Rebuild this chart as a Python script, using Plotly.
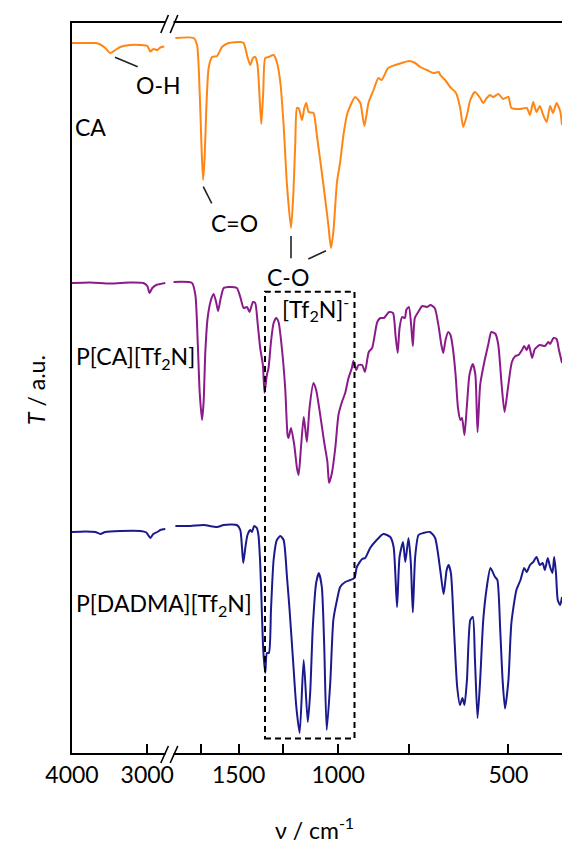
import math
import plotly.graph_objects as go

# ---------------- data (wavenumber in cm^-1, transmittance in a.u., offset) -------------
ca_left_wn = [4000, 3890, 3757, 3690, 3624, 3558, 3491, 3425, 3359, 3226, 3093, 3000, 2960, 2920, 2867, 2827, 2775]
ca_left_T = [71.0, 71.0, 71.0, 71.0, 70.85, 70.5, 70.0, 70.3, 70.6, 70.8, 70.8, 70.7, 70.15, 70.4, 70.3, 70.55, 70.65]

ca_right_wn = [1941, 1802, 1777, 1758, 1746, 1734, 1723, 1711, 1695, 1672,
               1638, 1605, 1562, 1490, 1470, 1447, 1431, 1415, 1402, 1389,
               1379, 1368, 1357, 1346, 1328, 1301, 1284, 1266, 1249, 1232,
               1212, 1200, 1191, 1183, 1175, 1159, 1148, 1139, 1128, 1106,
               1091, 1062, 1041, 1030, 1020, 1005, 992, 979, 963, 933,
               914, 899, 884, 866, 849, 838, 816, 793, 772, 749,
               731, 716, 697, 678, 664, 660, 647, 634, 619, 609,
               601, 592, 584, 573, 561, 554, 546, 539, 532, 521,
               511, 500, 494, 477, 464, 458, 452, 446, 440, 434,
               428, 422, 417, 411, 405, 402]
ca_right_T = [71.5, 71.5, 70.8, 66.1, 61.1, 57.3, 59.5, 64.5, 68.5, 69.6,
              69.7, 70.6, 71.0, 71.1, 71.0, 69.6, 68.8, 69.5, 69.6, 68.8,
              66.1, 62.9, 66.1, 69.5, 69.6, 69.8, 69.1, 67.1, 62.8, 56.8,
              52.5, 56.1, 61.1, 64.5, 64.5, 63.3, 64.5, 65.0, 64.1, 64.0,
              61.8, 56.8, 52.8, 50.5, 52.1, 57.1, 59.1, 61.8, 64.0, 65.6,
              65.0, 62.7, 65.0, 66.3, 67.5, 67.3, 68.5, 68.8, 69.0, 69.2,
              69.0, 68.6, 68.3, 68.0, 68.1, 67.8, 67.3, 66.6, 66.0, 64.6,
              62.6, 63.8, 65.3, 66.1, 65.5, 65.0, 65.5, 65.8, 65.6, 65.9,
              65.4, 65.6, 64.5, 64.4, 64.5, 63.8, 65.1, 64.1, 64.7, 63.8,
              63.1, 64.7, 64.0, 65.0, 64.2, 62.8]

pca_left_wn = [4000, 3757, 3491, 3226, 3053, 3000, 2970, 2934, 2881, 2761]
pca_left_T = [47.0, 47.05, 46.95, 47.05, 47.0, 46.7, 46.0, 46.5, 46.8, 47.0]

pca_right_wn = [1955, 1814, 1789, 1772, 1758, 1741, 1730, 1718, 1702, 1679,
                1661, 1644, 1631, 1616, 1594, 1561, 1511, 1490, 1470, 1450,
                1435, 1415, 1402, 1389, 1374, 1359, 1350, 1337, 1328, 1315,
                1301, 1287, 1275, 1258, 1241, 1229, 1224, 1212, 1196, 1183,
                1175, 1164, 1151, 1144, 1136, 1124, 1106, 1094, 1076, 1059,
                1045, 1038, 1026, 1012, 999, 985, 972, 959, 946, 940,
                929, 921, 907, 897, 883, 871, 853, 842, 830, 813,
                800, 792, 785, 779, 771, 762, 758, 750, 743, 738,
                732, 722, 710, 696, 687, 675, 665, 657, 652, 646,
                639, 633, 627, 620, 614, 608, 604, 598, 592, 586,
                578, 572, 567, 561, 553, 543, 536, 527, 521, 514,
                508, 501, 493, 486, 480, 473, 469, 464, 460, 454,
                449, 440, 431, 425, 422, 416, 411, 407, 402]
pca_right_T = [47.1, 47.0, 45.8, 41.1, 36.1, 33.3, 35.1, 40.1, 43.5, 45.3,
               45.9, 45.1, 44.2, 45.3, 46.5, 46.6, 46.5, 45.6, 44.5, 44.6,
               44.1, 45.1, 45.0, 43.1, 40.5, 38.8, 36.0, 37.8, 38.5, 41.1,
               43.0, 43.5, 43.1, 40.5, 36.5, 31.8, 31.5, 32.5, 30.8, 28.5,
               27.8, 30.5, 33.6, 32.5, 31.1, 34.5, 37.0, 36.3, 33.8, 31.1,
               29.1, 27.0, 28.0, 30.5, 33.8, 35.1, 36.0, 37.5, 38.5, 39.2,
               38.3, 38.8, 38.8, 38.1, 40.1, 40.5, 43.1, 43.5, 43.5, 44.1,
               44.0, 41.8, 40.0, 42.5, 43.6, 43.5, 44.3, 44.6, 42.8, 40.7,
               43.5, 44.1, 44.7, 44.6, 44.8, 44.5, 42.8, 40.8, 40.0, 41.3,
               42.1, 41.8, 40.5, 37.8, 34.5, 33.3, 33.5, 31.8, 34.8, 37.8,
               38.9, 37.8, 32.1, 36.8, 38.8, 40.8, 42.1, 41.9, 40.8, 36.8,
               34.1, 36.5, 39.1, 39.7, 39.8, 40.3, 40.7, 40.3, 40.8, 39.5,
               40.4, 40.8, 40.7, 41.1, 40.9, 41.5, 41.4, 40.3, 39.0]

pdadma_left_wn = [4000, 3823, 3690, 3624, 3558, 3359, 3093, 3013, 2960, 2920, 2867, 2827, 2761]
pdadma_left_T = [22.1, 22.15, 22.1, 21.9, 22.1, 22.2, 22.2, 22.05, 21.5, 21.9, 22.1, 22.3, 22.4]

pdadma_right_wn = [1941, 1826, 1730, 1638, 1594, 1511, 1490, 1480, 1472, 1460,
                   1447, 1431, 1421, 1408, 1393, 1384, 1374, 1365, 1357, 1346,
                   1337, 1326, 1315, 1301, 1284, 1266, 1249, 1232, 1219, 1202,
                   1186, 1170, 1151, 1132, 1121, 1109, 1094, 1082, 1069, 1059,
                   1048, 1033, 1020, 1005, 992, 972, 952, 936, 927, 907,
                   896, 878, 855, 832, 809, 798, 787, 779, 768, 761,
                   751, 744, 738, 731, 721, 707, 688, 674, 660, 651,
                   643, 638, 632, 624, 616, 609, 603, 598, 592, 584,
                   578, 573, 567, 561, 554, 546, 538, 528, 523, 517,
                   512, 507, 500, 494, 484, 476, 469, 464, 458, 452,
                   446, 440, 435, 431, 426, 422, 418, 415, 412, 409,
                   405, 402]
pdadma_right_T = [22.7, 22.7, 22.8, 22.6, 22.8, 22.8, 22.3, 20.6, 19.0, 20.5,
                  21.8, 22.3, 22.1, 22.7, 22.5, 21.8, 19.0, 14.3, 10.3, 8.0,
                  10.0, 10.0, 14.3, 19.3, 21.3, 21.7, 21.3, 17.6, 14.3, 9.3,
                  4.6, 2.0, 9.3, 3.1, 6.0, 12.6, 17.0, 18.0, 16.6, 11.0,
                  2.3, 7.0, 13.3, 15.3, 16.6, 17.1, 17.3, 17.5, 18.6, 19.4,
                  19.5, 20.5, 21.3, 21.9, 21.6, 20.6, 14.6, 19.6, 21.1, 19.1,
                  21.5, 19.0, 14.05, 19.6, 21.8, 22.0, 22.1, 21.5, 18.3, 15.9,
                  18.3, 18.8, 18.0, 12.3, 6.6, 4.8, 5.5, 4.8, 7.3, 13.3,
                  13.6, 9.3, 3.5, 7.3, 13.3, 16.6, 18.5, 17.6, 17.3, 12.3,
                  7.3, 4.45, 7.3, 13.0, 16.3, 17.3, 18.5, 18.1, 18.8, 19.1,
                  19.6, 18.8, 19.0, 18.3, 19.5, 18.6, 18.0, 19.6, 18.0, 15.3,
                  14.8, 15.6]

left_ticks = [4000, 3000]
left_ticktext = ["4000", "3000"]
right_ticks = [1750, 1500, 1250, 1000, 750, 500]
right_ticktext = ["", "1500", "", "1000", "", "500"]

# ---------------- figure geometry -------------
W, H = 562, 845
L, R, T, B = 72, 562, 23, 753
PW, PH = R - L, B - T
BREAK_PX = 168

def px(x):
    return (x - L) / PW

def py(y):
    return (B - y) / PH

FONT = "Lato"
FS = 23
ORANGE = "#FF8614"
PURPLE = "#8B1A8B"
BLUE = "#1A1A8E"
LW = 2

fig = go.Figure()
series = [
    (ca_left_wn, ca_left_T, ca_right_wn, ca_right_T, ORANGE),
    (pca_left_wn, pca_left_T, pca_right_wn, pca_right_T, PURPLE),
    (pdadma_left_wn, pdadma_left_T, pdadma_right_wn, pdadma_right_T, BLUE),
]
for lw_, lt_, rw_, rt_, col in series:
    fig.add_trace(go.Scatter(x=lw_, y=lt_, mode="lines", xaxis="x", yaxis="y",
                             line=dict(color=col, width=LW, shape="spline", smoothing=0.6),
                             showlegend=False, hoverinfo="skip"))
    fig.add_trace(go.Scatter(x=rw_, y=rt_, mode="lines", xaxis="x2", yaxis="y",
                             line=dict(color=col, width=LW, shape="spline", smoothing=0.6),
                             showlegend=False, hoverinfo="skip"))

axis_common = dict(showgrid=False, zeroline=False, showline=True, linecolor="black", linewidth=2,
                   mirror=True, ticks="inside", ticklen=9, tickwidth=2, tickcolor="black",
                   tickfont=dict(family=FONT, size=FS, color="black"))

fig.update_layout(
    width=W, height=H, autosize=False,
    margin=dict(l=L, r=W - R, t=T, b=H - B, pad=0, autoexpand=False),
    paper_bgcolor="white", plot_bgcolor="white",
    xaxis=dict(domain=[0, px(BREAK_PX)], range=[4000, 2725], anchor="y",
               tickvals=left_ticks, ticktext=left_ticktext, **axis_common),
    xaxis2=dict(domain=[px(BREAK_PX), 1], type="log", range=[math.log10(2000), math.log10(402)],
                anchor="y", tickvals=right_ticks, ticktext=right_ticktext, **axis_common),
    yaxis=dict(range=[0, 73], showgrid=False, zeroline=False, showline=True, linecolor="black",
               linewidth=2, showticklabels=False, ticks=""),
)

shapes = []
# axis break marks (top and bottom)
for (yc, ytop, ybot) in [(B, 746, 763), (T, 15, 33)]:
    shapes.append(dict(type="rect", xref="paper", yref="paper",
                       x0=px(165.5), x1=px(173.5), y0=py(yc + 2.5), y1=py(yc - 2.5),
                       fillcolor="white", line=dict(width=0), layer="above"))
    for xb in (160.8, 170.2):
        shapes.append(dict(type="line", xref="paper", yref="paper",
                           x0=px(xb), y0=py(ybot), x1=px(xb + 7.6), y1=py(ytop),
                           line=dict(color="black", width=1.6)))
# dashed box around the [Tf2N]- region
shapes.append(dict(type="rect", xref="paper", yref="paper",
                   x0=px(265), x1=px(354.5), y0=py(738.5), y1=py(291.7),
                   line=dict(color="black", width=2, dash="6px,4px"), fillcolor="rgba(0,0,0,0)"))
# pointer lines
for (x0, y0, x1, y1) in [(115, 57.3, 137.7, 66.7), (203.3, 186.7, 211.7, 203.3),
                         (291, 236, 291, 258.3), (308.3, 259, 326, 250.7)]:
    shapes.append(dict(type="line", xref="paper", yref="paper",
                       x0=px(x0), y0=py(y0), x1=px(x1), y1=py(y1),
                       line=dict(color="#222222", width=1.6)))
fig.update_layout(shapes=shapes)

def ann(text, x, y, xanchor="center", yanchor="middle", angle=0):
    fig.add_annotation(text=text, xref="paper", yref="paper", x=px(x), y=py(y),
                       xanchor=xanchor, yanchor=yanchor, showarrow=False, textangle=angle,
                       font=dict(family=FONT, size=FS, color="black"))

ann("CA", 73, 127, xanchor="left")
ann("O-H", 158.5, 85)
ann("C=O", 234.3, 223)
ann("C-O", 288.3, 277)
ann("P[CA][Tf<sub>2</sub>N]", 74, 358, xanchor="left")
ann("[Tf<sub>2</sub>N]<sup>-</sup>", 280, 309, xanchor="left")
ann("P[DADMA][Tf<sub>2</sub>N]", 74, 604, xanchor="left")
ann("ν / cm<sup>-1</sup>", 314, 828)
ann("<i>T</i> / a.u.", 36, 390, angle=-90)

fig.write_html("out.html")
